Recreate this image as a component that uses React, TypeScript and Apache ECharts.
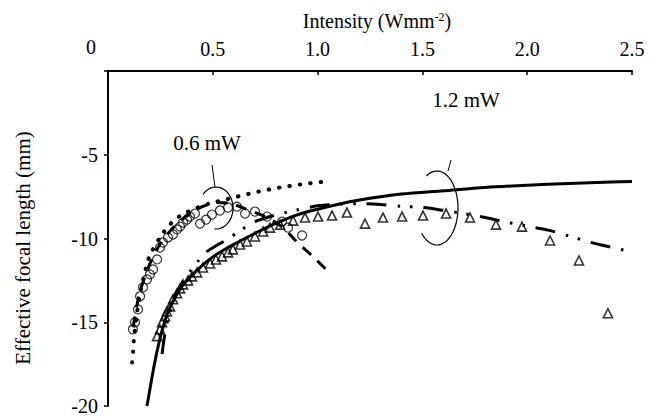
import React, { useEffect, useRef } from 'react';
import * as echarts from 'echarts';

// ---- data ----
const xTickLabels = ['0', '0.5', '1.0', '1.5', '2.0', '2.5'];
const yTickLabels = ['-20', '-15', '-10', '-5', ''];

// 0.6 mW measured (open circles)
const circ06X = [0.119, 0.129, 0.143, 0.153, 0.167, 0.186, 0.2, 0.215, 0.234, 0.248, 0.262, 0.286, 0.31, 0.329, 0.344, 0.358, 0.377, 0.391, 0.415, 0.439, 0.468, 0.496, 0.534, 0.573, 0.615, 0.654, 0.701, 0.759, 0.83, 0.859, 0.926];
const circ06Y = [-15.42, -15.0, -14.23, -13.45, -12.92, -12.44, -12.14, -11.85, -11.25, -10.54, -10.24, -9.94, -9.76, -9.46, -9.29, -9.05, -8.87, -8.69, -8.51, -9.11, -8.87, -8.57, -8.33, -8.15, -8.1, -8.51, -8.39, -8.69, -8.99, -9.35, -9.82];

// 0.6 mW model (dotted)
const dot06X = [0.115, 0.12, 0.125, 0.14, 0.16, 0.18, 0.2, 0.25, 0.3, 0.35, 0.4, 0.45, 0.5, 0.56, 0.6, 0.65, 0.7, 0.75, 0.8, 0.85, 0.9, 0.95, 1.0, 1.05];
const dot06Y = [-17.4, -16.7, -15.8, -14.3, -12.9, -11.8, -11.0, -9.9, -9.1, -8.6, -8.3, -8.05, -7.85, -7.68, -7.55, -7.4, -7.25, -7.12, -7.0, -6.9, -6.8, -6.72, -6.65, -6.6];

// 0.6 mW model (dashed)
const dash06X = [0.12, 0.15, 0.2, 0.25, 0.3, 0.35, 0.4, 0.45, 0.52, 0.58, 0.65, 0.75, 0.84, 0.9, 0.98, 1.06];
const dash06Y = [-15.3, -13.3, -11.5, -10.3, -9.5, -8.9, -8.45, -8.1, -7.85, -7.9, -8.2, -8.7, -9.4, -10.2, -11.1, -12.1];

// 1.2 mW measured (open triangles)
const tri12X = [0.234, 0.248, 0.258, 0.272, 0.281, 0.296, 0.31, 0.329, 0.344, 0.358, 0.382, 0.401, 0.425, 0.453, 0.487, 0.515, 0.544, 0.573, 0.596, 0.63, 0.663, 0.701, 0.74, 0.773, 0.821, 0.883, 0.94, 1.002, 1.069, 1.14, 1.226, 1.312, 1.403, 1.503, 1.613, 1.727, 1.851, 1.975, 2.109, 2.247, 2.385];
const tri12Y = [-15.83, -15.42, -15.0, -14.64, -14.35, -14.05, -13.63, -13.27, -12.98, -12.74, -12.5, -12.26, -12.02, -11.73, -11.49, -11.25, -11.07, -10.83, -10.65, -10.36, -10.18, -9.88, -9.58, -9.35, -9.17, -8.93, -8.75, -8.69, -8.63, -8.45, -9.11, -8.75, -8.69, -8.63, -8.51, -8.75, -9.17, -9.29, -10.12, -11.31, -14.46];

// 1.2 mW model (solid)
const solid12X = [0.186, 0.2, 0.22, 0.24, 0.26, 0.28, 0.3, 0.35, 0.4, 0.45, 0.5, 0.55, 0.6, 0.7, 0.8, 0.9, 1.0, 1.1, 1.2, 1.4, 1.6, 1.8, 2.0, 2.2, 2.4, 2.5];
const solid12Y = [-20.0, -19.0, -17.6, -16.4, -15.4, -14.6, -14.0, -12.9, -12.2, -11.6, -11.1, -10.7, -10.35, -9.7, -9.1, -8.6, -8.25, -7.95, -7.7, -7.35, -7.15, -6.95, -6.82, -6.72, -6.63, -6.6];

// 1.2 mW model (dash-dot)
const dd12X = [0.258, 0.27, 0.29, 0.32, 0.36, 0.39, 0.43, 0.47, 0.52, 0.57, 0.64, 0.7, 0.8, 0.9, 1.0, 1.1, 1.2, 1.3, 1.4, 1.5, 1.6, 1.7, 1.8, 1.9, 2.0, 2.1, 2.2, 2.3, 2.4, 2.49];
const dd12Y = [-16.9, -15.8, -14.6, -13.5, -12.5, -12.0, -11.35, -10.8, -10.4, -10.05, -9.45, -9.0, -8.6, -8.3, -8.05, -7.95, -7.92, -7.97, -8.08, -8.15, -8.32, -8.52, -8.75, -9.02, -9.27, -9.5, -9.85, -10.22, -10.52, -10.77];

const zip = (xs: number[], ys: number[]) => xs.map((x, i) => [x, ys[i]]);

const FONT = 'Liberation Serif';
const FS = 20;

function ellipsePts(cx: number, cy: number, rx: number, ry: number, a0: number, a1: number) {
  const pts: number[][] = [];
  const n = 40;
  for (let i = 0; i <= n; i++) {
    const a = ((a0 + ((a1 - a0) * i) / n) * Math.PI) / 180;
    pts.push([cx + rx * Math.cos(a), cy + ry * Math.sin(a)]);
  }
  return pts;
}

export default function App() {
  const ref = useRef<HTMLDivElement>(null);
  useEffect(() => {
    document.body.style.margin = '0';
    const chart = echarts.init(ref.current!, null, { renderer: 'svg' });
    const lineBase = { type: 'line', showSymbol: false, smooth: 0.3, silent: true };
    const txt = (text: string, x: number, y: number, size = FS) => ({
      type: 'text', x, y,
      style: { text, fontFamily: FONT, fontSize: size, fill: '#000', align: 'center', verticalAlign: 'middle' },
    });
    chart.setOption({
      animation: false,
      backgroundColor: '#fff',
      textStyle: { fontFamily: FONT, color: '#000' },
      grid: { left: 108, right: 24, top: 71, bottom: 8 },
      xAxis: {
        type: 'value',
        position: 'top',
        min: 0,
        max: 2.5,
        interval: 0.5,
        axisLine: { onZero: false, lineStyle: { color: '#000', width: 2 } },
        axisTick: { show: true, inside: true, length: 4, lineStyle: { color: '#000', width: 1.5 } },
        splitLine: { show: false },
        axisLabel: {
          fontFamily: FONT, fontSize: FS, color: '#000', margin: 12,
          formatter: (v: number) => {
            const i = Math.round(v / 0.5);
            return i === 0 ? '' : xTickLabels[i];
          },
        },
      },
      yAxis: {
        type: 'value',
        min: -20,
        max: 0,
        interval: 5,
        axisLine: { onZero: false, lineStyle: { color: '#000', width: 2 } },
        axisTick: { show: true, length: 4, lineStyle: { color: '#000', width: 1.5 } },
        splitLine: { show: false },
        axisLabel: {
          fontFamily: FONT, fontSize: FS, color: '#000', margin: 10,
          formatter: (v: number) => yTickLabels[Math.round((v + 20) / 5)],
        },
      },
      series: [
        {
          ...lineBase, data: zip(solid12X, solid12Y),
          lineStyle: { color: '#000', width: 3 },
        },
        {
          ...lineBase, data: zip(dd12X, dd12Y),
          lineStyle: { color: '#000', width: 3, type: [20, 11, 2.5, 10, 2.5, 11] },
        },
        {
          ...lineBase, data: zip(dash06X, dash06Y),
          lineStyle: { color: '#000', width: 3, type: [11, 9] },
        },
        {
          ...lineBase, data: zip(dot06X, dot06Y),
          lineStyle: { color: '#000', width: 4, type: [0.5, 10], cap: 'round' },
        },
        {
          type: 'scatter', silent: true, data: zip(circ06X, circ06Y), symbol: 'circle', symbolSize: 9,
          itemStyle: { color: 'rgba(255,255,255,0)', borderColor: '#000', borderWidth: 1.2 },
        },
        {
          type: 'scatter', silent: true, data: zip(tri12X, tri12Y), symbol: 'triangle', symbolSize: 9,
          itemStyle: { color: 'rgba(255,255,255,0)', borderColor: '#000', borderWidth: 1.6 },
        },
      ],
      graphic: [
        {
          type: 'text', x: 377, y: 21,
          style: {
            text: 'Intensity (Wmm{sup|-2})', fontFamily: FONT, fontSize: 20, fill: '#000',
            align: 'center', verticalAlign: 'middle',
            rich: { sup: { fontFamily: FONT, fontSize: 12, verticalAlign: 'top', fill: '#000' } },
          },
        },
        {
          type: 'text', x: 23, y: 248, rotation: Math.PI / 2,
          style: {
            text: 'Effective focal length (mm)', fontFamily: FONT, fontSize: 21, fill: '#000',
            align: 'center', verticalAlign: 'middle',
          },
        },
        txt('0', 91, 47),
        txt('0.6 mW', 207, 143, 21),
        txt('1.2 mW', 466, 100, 21),
        { type: 'line', shape: { x1: 212, y1: 165, x2: 215, y2: 187 }, style: { stroke: '#000', lineWidth: 1 } },
        { type: 'polyline', shape: { points: ellipsePts(216, 208, 17, 21, -140, 95) }, style: { stroke: '#000', lineWidth: 1.2, fill: null } },
        { type: 'line', shape: { x1: 451, y1: 160, x2: 448, y2: 171 }, style: { stroke: '#000', lineWidth: 1 } },
        { type: 'polyline', shape: { points: ellipsePts(437, 208, 21, 37, -120, 137) }, style: { stroke: '#000', lineWidth: 1.2, fill: null } },
      ],
    });
    return () => chart.dispose();
  }, []);
  return <div ref={ref} style={{ position: 'fixed', left: 0, top: 0, width: 656, height: 416 }} />;
}
